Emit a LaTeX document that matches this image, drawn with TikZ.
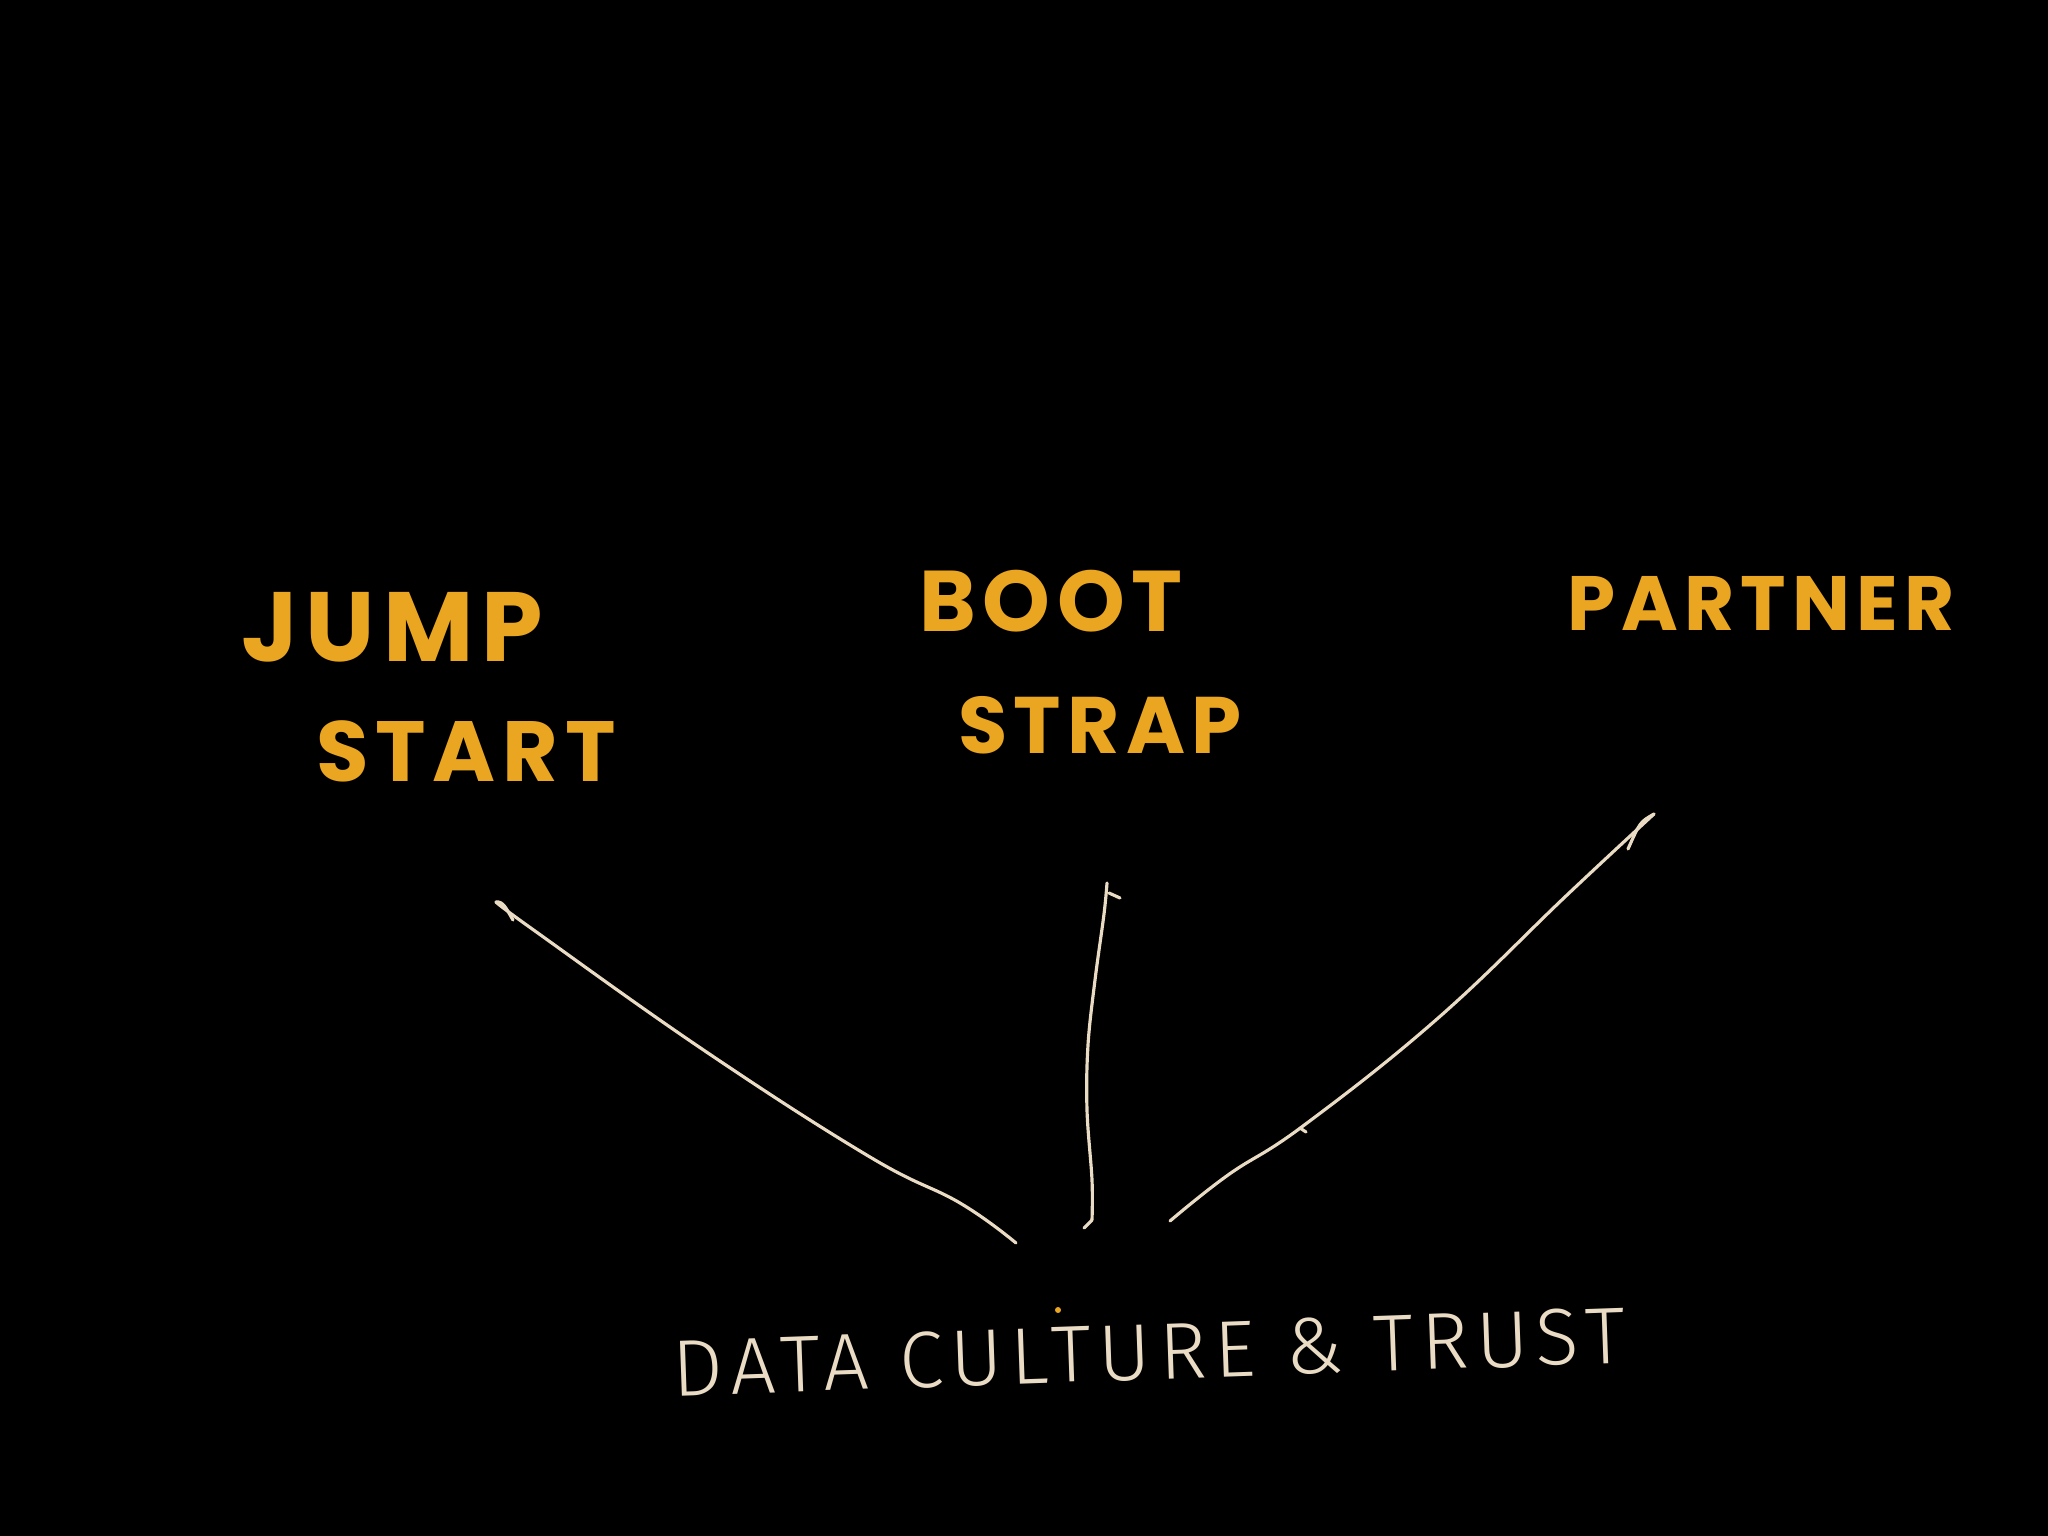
\documentclass[tikz,border=0pt]{standalone}
\usepackage{fontspec}
\newfontfamily\handfont{Poppins}[LetterSpace=8]
\newfontfamily\thinfont{Fira Sans}[UprightFont=* Light, LetterSpace=10]
\definecolor{brush}{HTML}{EAA620}
\definecolor{ink}{HTML}{EADCC4}
\begin{document}
\begin{tikzpicture}[x=0.01cm,y=-0.01cm,
  brushtext/.style={text=brush, inner sep=0pt, font=\handfont\bfseries\fontsize{#1}{#1}\selectfont},
  brushtext/.default=28,
  inktext/.style={text=ink, inner sep=0pt, font=\thinfont\fontsize{22.8}{24}\selectfont},
  conn/.style={draw=ink, line width=0.9pt, line cap=round, line join=round}]
\fill[black] (0,0) rectangle (2048,1536);
\useasboundingbox (0,0) rectangle (2048,1536);

% labels
\node[brushtext=28] (jump) at (392,627) {JUMP};
\node[brushtext=24.3] (start) at (466,751) {START};
\node[brushtext=24.5] (boot) at (1051,601) {BOOT};
\node[brushtext=22.8] (strap) at (1100,725) {STRAP};
\node[brushtext=21.9] (partner) at (1761,603) {PARTNER};
\node[inktext, rotate=2] (base) at (1149,1352) {DATA CULTURE \& TRUST};
\fill[brush] (1058,1310) circle (3);

% connector 1: base -> JUMP START
\coordinate (a1) at (1016,1243);
\coordinate (b1) at (496,902);
\coordinate (h1) at (513,920);
\draw[conn] plot[smooth, tension=0.7] coordinates {(a1) (960,1203) (870,1157) (705,1051) (535,931) (b1)};
\draw[conn] (b1) .. controls (503,901) and (506,908) .. (h1);

% connector 2: base -> BOOT STRAP
\coordinate (a2) at (1092,1220);
\coordinate (t2) at (1084,1228);
\coordinate (b2) at (1107,883);
\coordinate (hs2) at (1109,893);
\coordinate (h2) at (1120,898);
\draw[conn] plot[smooth, tension=0.6] coordinates {(a2) (1092,1180) (1087,1110) (1088,1045) (1095,980) (1104,914) (b2)};
\draw[conn] (a2) -- (t2);
\draw[conn] (hs2) -- (h2);

% connector 3: base -> PARTNER
\coordinate (a3) at (1170,1221);
\coordinate (b3) at (1654,814);
\coordinate (h3) at (1628,849);
\draw[conn] plot[smooth, tension=0.7] coordinates {(a3) (1228,1175) (1303,1126) (1437,1019) (1567,895) (b3)};
\draw[conn] (b3) .. controls (1640,822) .. (h3);
\draw[conn] (1300,1128) -- (1306,1132);
\end{tikzpicture}
\end{document}
